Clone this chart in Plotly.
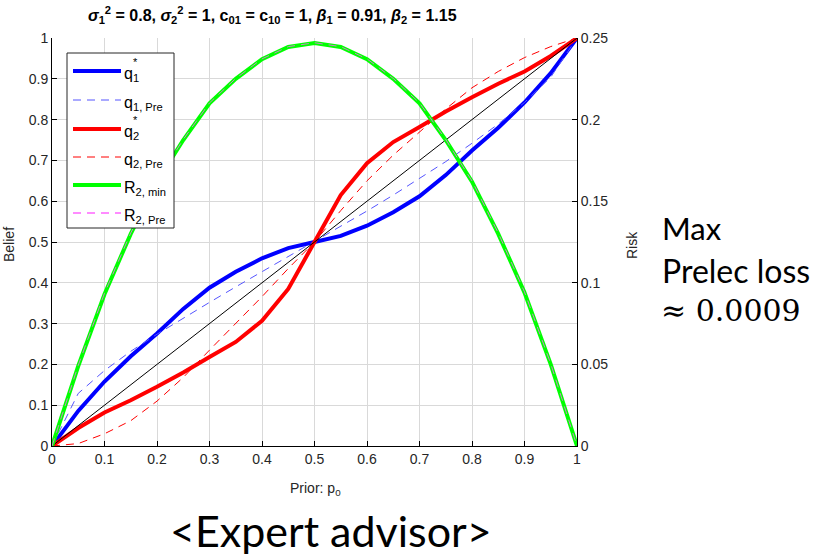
import plotly.graph_objects as go

# Prior grid p0
p0 = [0.00, 0.05, 0.10, 0.15, 0.20, 0.25, 0.30, 0.35, 0.40, 0.45, 0.50,
      0.55, 0.60, 0.65, 0.70, 0.75, 0.80, 0.85, 0.90, 0.95, 1.00]

# Optimal beliefs and their Prelec approximations
q1_star = [0.000, 0.086, 0.158, 0.220, 0.276, 0.336, 0.388, 0.427, 0.460, 0.485, 0.500,
           0.515, 0.540, 0.573, 0.612, 0.664, 0.724, 0.780, 0.842, 0.914, 1.000]
q1_pre = [0.000, 0.129, 0.185, 0.232, 0.274, 0.314, 0.352, 0.390, 0.427, 0.463, 0.500,
          0.538, 0.576, 0.615, 0.655, 0.697, 0.742, 0.789, 0.842, 0.904, 1.000]
q2_star = [0.000, 0.044, 0.082, 0.112, 0.145, 0.180, 0.218, 0.255, 0.307, 0.385, 0.500,
           0.615, 0.693, 0.745, 0.782, 0.820, 0.855, 0.888, 0.918, 0.956, 1.000]
q2_pre = [0.000, 0.006, 0.030, 0.062, 0.110, 0.168, 0.235, 0.300, 0.366, 0.435, 0.500,
          0.577, 0.650, 0.713, 0.770, 0.826, 0.878, 0.918, 0.952, 0.979, 1.000]

# Minimum risk and risk under the Prelec approximation (right axis)
r2_min = [0.000, 0.049, 0.093, 0.130, 0.162, 0.1875, 0.210, 0.225, 0.237, 0.2445, 0.247,
          0.2445, 0.237, 0.225, 0.210, 0.1875, 0.162, 0.130, 0.094, 0.050, 0.000]
r2_pre = [0.000, 0.0494, 0.0936, 0.1305, 0.1624, 0.1878, 0.2102, 0.2252, 0.2372, 0.2447, 0.2471,
          0.2447, 0.2372, 0.2252, 0.2102, 0.1878, 0.1624, 0.1305, 0.0944, 0.0504, 0.000]

diag_x = [0, 1]
diag_y = [0, 1]

x_ticks = [0, 0.1, 0.2, 0.3, 0.4, 0.5, 0.6, 0.7, 0.8, 0.9, 1]
x_tick_text = ["0", "0.1", "0.2", "0.3", "0.4", "0.5", "0.6", "0.7", "0.8", "0.9", "1"]
belief_ticks = x_ticks
belief_tick_text = x_tick_text
risk_ticks = [0, 0.05, 0.10, 0.15, 0.20, 0.25]
risk_tick_text = ["0", "0.05", "0.1", "0.15", "0.2", "0.25"]

BLUE = "#0000ff"
BLUE_D = "#5555ff"
RED = "#ff0000"
GREEN = "#00ff00"
MAGENTA = "#ff66ff"
TXT = "#262626"
FONT = "Liberation Sans, Arial, sans-serif"

# plot-area geometry in pixels (used for placing decorations)
W, H = 813, 559
L, R, T, B = 52, 577, 38, 446


def px(x):
    return (x - L) / (R - L)


def py(y):
    return (B - y) / (B - T)


fig = go.Figure()
fig.add_trace(go.Scatter(x=p0, y=q1_star, mode="lines", line=dict(color=BLUE, width=4)))
fig.add_trace(go.Scatter(x=p0, y=q1_pre, mode="lines", line=dict(color=BLUE_D, width=1, dash="8px,6px")))
fig.add_trace(go.Scatter(x=p0, y=q2_star, mode="lines", line=dict(color=RED, width=4)))
fig.add_trace(go.Scatter(x=p0, y=q2_pre, mode="lines", line=dict(color=RED, width=1, dash="8px,6px")))
fig.add_trace(go.Scatter(x=diag_x, y=diag_y, mode="lines", line=dict(color="black", width=1)))
fig.add_trace(go.Scatter(x=p0, y=r2_min, mode="lines", yaxis="y2", line=dict(color=GREEN, width=4)))
fig.add_trace(go.Scatter(x=p0, y=r2_pre, mode="lines", yaxis="y2",
                         line=dict(color=MAGENTA, width=1, dash="8px,6px"), opacity=0.8))

axis_common = dict(showline=True, linecolor="black", linewidth=1, ticks="inside", ticklen=5,
                   tickcolor="black", zeroline=False, tickfont=dict(family=FONT, size=14, color=TXT))

fig.update_layout(
    width=W, height=H,
    margin=dict(l=L, r=W - R, t=T, b=H - B),
    paper_bgcolor="white", plot_bgcolor="white",
    showlegend=False,
    xaxis=dict(range=[0, 1], tickvals=x_ticks, ticktext=x_tick_text, showgrid=True,
               gridcolor="#d9d9d9", gridwidth=1, **axis_common),
    yaxis=dict(range=[0, 1], tickvals=belief_ticks, ticktext=belief_tick_text, showgrid=True,
               gridcolor="#d9d9d9", gridwidth=1, **axis_common),
    yaxis2=dict(range=[0, 0.25], tickvals=risk_ticks, ticktext=risk_tick_text, overlaying="y",
                side="right", showgrid=False, **axis_common),
)


def note(x, y, text, size, family=FONT, color=TXT, xanchor="center", angle=0):
    return dict(x=px(x), y=py(y), xref="paper", yref="paper", showarrow=False,
                xanchor=xanchor, yanchor="middle", textangle=angle, text=text,
                font=dict(family=family, size=size, color=color))


ann = [
    note(272, 15,
         "<b><i>σ</i><sub>1</sub><sup>2</sup> = 0.8, <i>σ</i><sub>2</sub><sup>2</sup> = 1, "
         "c<sub>01</sub> = c<sub>10</sub> = 1, <i>β</i><sub>1</sub> = 0.91, "
         "<i>β</i><sub>2</sub> = 1.15</b>", 16, color="black"),
    note(9, 245, "Belief", 14, angle=-90),
    note(632, 245, "Risk", 14, angle=-90),
    note(315, 489, "Prior: p<sub>0</sub>", 14),
    note(331, 530, "&lt;Expert advisor&gt;", 43, family="Lato, sans-serif", color="black"),
    note(660, 228, "Max", 31, family="Lato, sans-serif", color="black", xanchor="left"),
    note(660, 270, "Prelec loss", 32, family="Lato, sans-serif", color="black", xanchor="left"),
    note(659, 310, "≈ 0.0009", 30, family="DejaVu Serif, serif", color="black", xanchor="left"),
]

# legend box
shapes = [dict(type="rect", xref="paper", yref="paper", x0=px(67), x1=px(174), y0=py(228), y1=py(53),
               line=dict(color="#262626", width=1), fillcolor="white", layer="above")]
entries = [
    (71, BLUE, 4, "solid", "q<sub>1</sub>", True),
    (100, BLUE_D, 1, "8px,6px", "q<sub>1, Pre</sub>", False),
    (129, RED, 4, "solid", "q<sub>2</sub>", True),
    (157, RED, 1, "8px,6px", "q<sub>2, Pre</sub>", False),
    (185, GREEN, 4, "solid", "R<sub>2, min</sub>", False),
    (213, MAGENTA, 1.5, "8px,6px", "R<sub>2, Pre</sub>", False),
]
for yy, col, w, dash, label, star in entries:
    shapes.append(dict(type="line", xref="paper", yref="paper", x0=px(73), x1=px(121), y0=py(yy), y1=py(yy),
                       line=dict(color=col, width=w, dash=dash), layer="above"))
    ann.append(note(122, yy + 3, label, 16, color="black", xanchor="left"))
    if star:
        ann.append(note(131, yy - 9, "*", 11, color="black", xanchor="left"))

fig.update_layout(annotations=ann, shapes=shapes)
fig.write_html("out.html")
